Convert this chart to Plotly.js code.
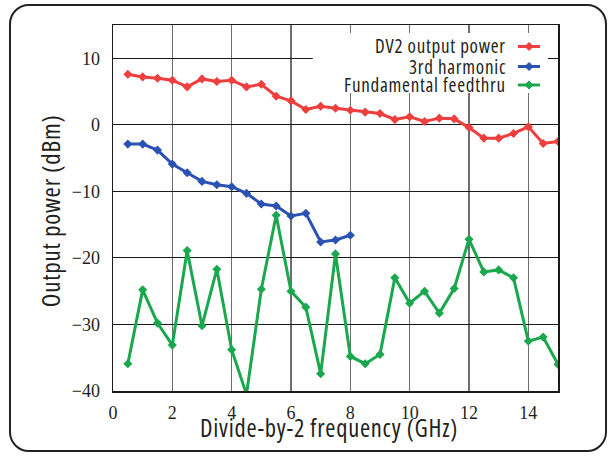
<!DOCTYPE html>
<html>
<head>
<meta charset="utf-8">
<script src="https://cdn.plot.ly/plotly-3.0.1.min.js"></script>
<style>
  html, body { margin: 0; padding: 0; background: #fff; }
  #wrap { position: relative; width: 613px; height: 457px; }
  #chart { width: 613px; height: 457px; }
  #frame { position: absolute; left: 9px; top: 4px; width: 598px; height: 448px;
           border: 2.5px solid #222; border-radius: 20px; pointer-events: none; box-sizing: border-box; }
  text.annotation-text { font-stretch: condensed; letter-spacing: 0.75px; }
</style>
</head>
<body>
<div id="wrap"><div id="chart"></div><div id="frame"></div></div>
<script>
// ---- data ----
const freqMain = [0.5,1,1.5,2,2.5,3,3.5,4,4.5,5,5.5,6,6.5,7,7.5,8,8.5,9,9.5,10,10.5,11,11.5,12,12.5,13,13.5,14,14.5,15];
const dv2Power = [7.6,7.2,7.0,6.7,5.7,6.9,6.5,6.7,5.7,6.1,4.3,3.6,2.3,2.8,2.5,2.2,1.9,1.7,0.8,1.2,0.5,1.0,0.9,-0.4,-2.0,-2.0,-1.3,-0.3,-2.8,-2.5];
const freqHarm = [0.5,1,1.5,2,2.5,3,3.5,4,4.5,5,5.5,6,6.5,7,7.5,8];
const harm3 = [-2.9,-2.9,-3.8,-5.9,-7.2,-8.5,-9.0,-9.3,-10.3,-11.9,-12.2,-13.7,-13.3,-17.6,-17.3,-16.6];
const feedthru = [-35.9,-24.8,-29.8,-33.1,-18.9,-30.2,-21.7,-33.8,-40.5,-24.7,-13.6,-25.0,-27.4,-37.4,-19.4,-34.8,-35.9,-34.5,-23.0,-26.8,-25.0,-28.3,-24.6,-17.2,-22.1,-21.8,-23.0,-32.5,-31.9,-36.0];
const seriesNames = ["DV2 output power", "3rd harmonic", "Fundamental feedthru"];
const seriesColors = ["#ef3e3e", "#2a52b3", "#1aa84e"];
const xTickVals = [0,2,4,6,8,10,12,14];
const yTickVals = [-40,-30,-20,-10,0,10];
const xTitle = 'Divide-by-2 frequency (GHz)';
const yTitle = 'Output power (dBm)';

const sans = "Open Sans";
const serif = "Liberation Serif";
const ink = '#231f20';

function tr(x, y, i) {
  return {
    x: x, y: y, type: 'scatter', mode: 'lines+markers', name: seriesNames[i],
    line: {color: seriesColors[i], width: 3},
    marker: {color: seriesColors[i], symbol: 'diamond', size: 7},
    showlegend: false, cliponaxis: true
  };
}
const data = [tr(freqMain, dv2Power, 0), tr(freqHarm, harm3, 1), tr(freqMain, feedthru, 2)];

// axis titles as annotations (precise placement)
const annotations = [
  {xref: 'paper', yref: 'paper', x: 0.4843, y: -0.100, xanchor: 'center', yanchor: 'middle',
   text: xTitle, showarrow: false, font: {family: sans, size: 24.5, color: ink}},
  {xref: 'paper', yref: 'paper', x: -0.140, y: 0.4932, xanchor: 'center', yanchor: 'middle', textangle: -90,
   text: yTitle, showarrow: false, font: {family: sans, size: 25, color: ink}}
];
// custom legend (text left of sample, as in reference)
const legRowsY = [0.9413, 0.8866, 0.8361];
const shapes = [
  {type: 'rect', xref: 'paper', yref: 'paper', x0: 0.449, x1: 0.9775, y0: 0.814, y1: 0.978,
   fillcolor: '#ffffff', line: {width: 0}, layer: 'above'}
];
seriesNames.forEach((n, i) => {
  annotations.push({xref: 'paper', yref: 'paper', x: 0.8875, y: legRowsY[i], xanchor: 'right', yanchor: 'middle',
    text: n, showarrow: false, font: {family: sans, size: 19, color: ink}});
  shapes.push({type: 'line', xref: 'paper', yref: 'paper', x0: 0.910, x1: 0.9595, y0: legRowsY[i], y1: legRowsY[i],
    line: {color: seriesColors[i], width: 3}, layer: 'above'});
  shapes.push({type: 'path', xref: 'paper', yref: 'paper', xsizemode: 'pixel', ysizemode: 'pixel',
    xanchor: 0.935, yanchor: legRowsY[i], path: 'M -4 0 L 0 4 L 4 0 L 0 -4 Z',
    fillcolor: seriesColors[i], line: {color: seriesColors[i], width: 1}, layer: 'above'});
});

const layout = {
  width: 613, height: 457,
  margin: {l: 113, r: 55, t: 25, b: 66},
  paper_bgcolor: '#ffffff', plot_bgcolor: '#ffffff',
  showlegend: false,
  xaxis: {
    range: [0, 15], tickvals: xTickVals, ticks: '', ticklabelstandoff: 5,
    showgrid: true, gridcolor: '#6e6e6e', gridwidth: 1.5,
    showline: true, mirror: true, linecolor: '#1a1a1a', linewidth: 1.5, zeroline: false,
    tickfont: {family: serif, size: 18, color: ink}
  },
  yaxis: {
    range: [-40, 15], tickvals: yTickVals, ticks: '', ticklabelstandoff: 8,
    showgrid: true, gridcolor: '#1a1a1a', gridwidth: 1,
    showline: true, mirror: true, linecolor: '#1a1a1a', linewidth: 1.5, zeroline: false,
    tickfont: {family: serif, size: 18, color: ink}
  },
  annotations: annotations,
  shapes: shapes
};

Plotly.newPlot('chart', data, layout, {displayModeBar: false, staticPlot: true});
</script>
</body>
</html>
